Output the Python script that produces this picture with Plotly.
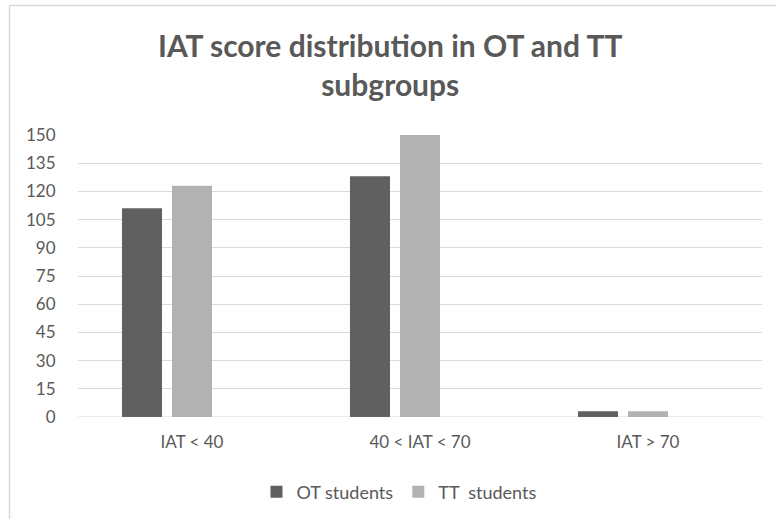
import plotly.graph_objects as go

categories = ["IAT < 40", "40 < IAT < 70", "IAT > 70"]
ot_students = [111, 128, 3]
tt_students = [123, 150, 3]
empty_series = [0, 0, 0]
y_ticks = list(range(0, 151, 15))

font_family = "Lato, 'Open Sans', sans-serif"
text_color = "#595959"
grid_color = "#d9d9d9"

fig = go.Figure()
fig.add_trace(go.Bar(x=categories, y=ot_students, name="OT students",
                     marker=dict(color="#606060", line=dict(width=0))))
fig.add_trace(go.Bar(x=categories, y=tt_students, name="TT  students",
                     marker=dict(color="#b2b2b2", line=dict(width=0))))
fig.add_trace(go.Bar(x=categories, y=empty_series, name="",
                     showlegend=False, hoverinfo="skip",
                     marker=dict(color="rgba(0,0,0,0)", line=dict(width=0))))

L, R, T, B = 78, 14, 135, 102
PW, PH = 776 - L - R, 519 - T - B


def px_x(px):
    return (px - L) / PW


def px_y(py):
    return (519 - B - py) / PH


fig.update_layout(
    width=776, height=519,
    margin=dict(l=L, r=R, t=T, b=B, autoexpand=False),
    paper_bgcolor="white", plot_bgcolor="white",
    barmode="group", bargap=0.342, bargroupgap=0.2,
    font=dict(family=font_family, size=16, color=text_color),
    legend=dict(orientation="h", x=px_x(399), xanchor="center",
                y=px_y(492), yanchor="middle",
                font=dict(size=18, color=text_color),
                itemwidth=30, traceorder="normal"),
    xaxis=dict(showgrid=False, showline=False, zeroline=False,
               ticks="outside", ticklen=10, tickcolor="rgba(0,0,0,0)",
               tickfont=dict(size=17, color=text_color)),
    yaxis=dict(range=[0, 150], tickvals=y_ticks, showgrid=True,
               gridcolor=grid_color, gridwidth=1, zeroline=False,
               showline=False, ticks="outside", ticklen=18,
               tickcolor="rgba(0,0,0,0)",
               tickfont=dict(size=17, color=text_color)),
    annotations=[
        dict(text="<b>IAT score distribution in OT and TT<br>subgroups</b>",
             xref="paper", yref="paper", x=px_x(390), y=px_y(25),
             xanchor="center", yanchor="top", showarrow=False,
             font=dict(family=font_family, size=30, color=text_color)),
    ],
    shapes=[
        dict(type="line", xref="paper", yref="paper",
             x0=px_x(9.5), x1=px_x(790), y0=px_y(5.5), y1=px_y(5.5),
             line=dict(color=grid_color, width=1.5)),
        dict(type="line", xref="paper", yref="paper",
             x0=px_x(9.5), x1=px_x(9.5), y0=px_y(5.5), y1=px_y(530),
             line=dict(color=grid_color, width=1.5)),
        dict(type="line", xref="paper", yref="y",
             x0=0, x1=1, y0=0, y1=0, layer="below",
             line=dict(color=grid_color, width=1)),
    ],
)

fig.write_html("out.html", config={"displayModeBar": False},
               post_script="document.body.style.margin='0';")
